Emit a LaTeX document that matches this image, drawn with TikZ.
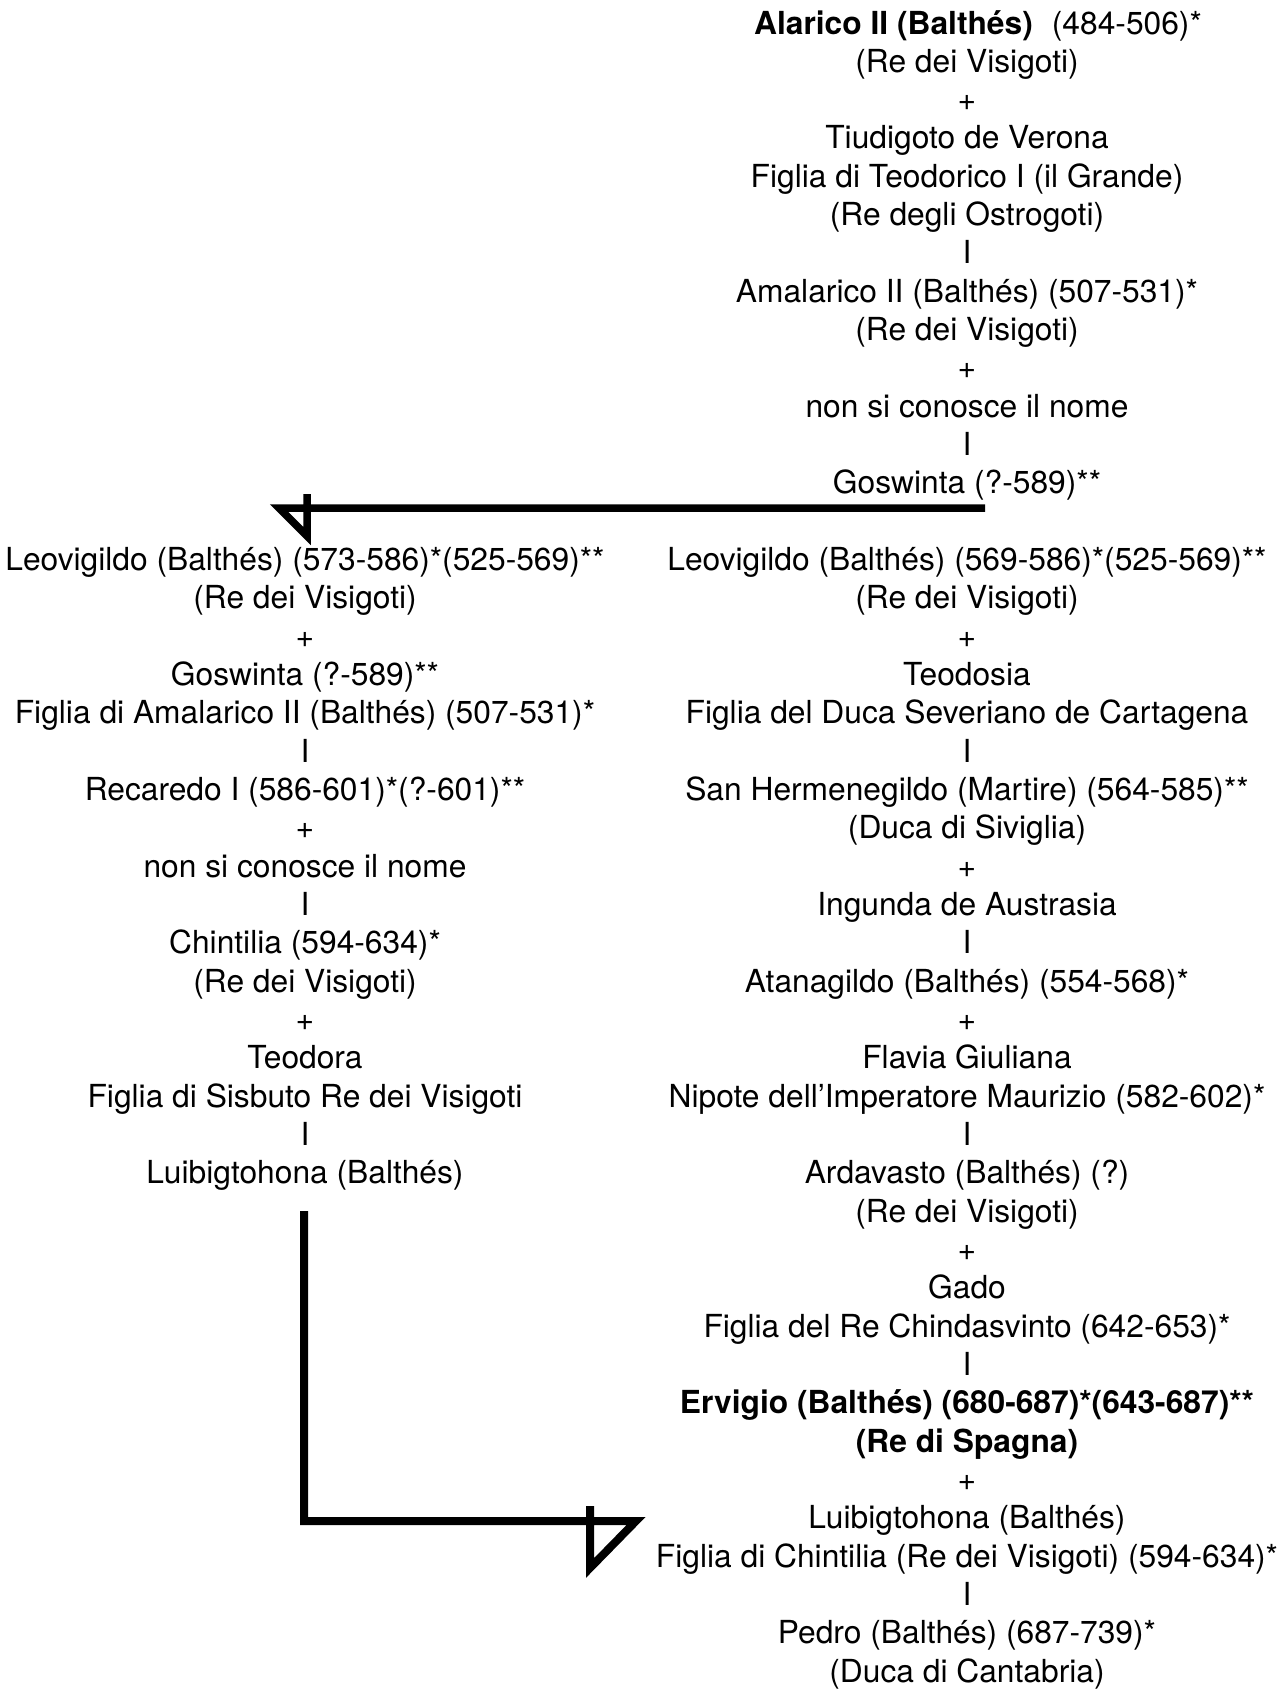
\documentclass[tikz,border=0pt]{standalone}
\usepackage{fontspec}
\setmainfont{TeX Gyre Heros}
\begin{document}
\begin{tikzpicture}[x=1pt,y=-1pt,
  txt/.style={anchor=base, inner sep=0pt, font=\fontsize{31.75}{38}\selectfont},
  link/.style={line width=7.5pt, line join=miter, line cap=butt}]
\useasboundingbox (0,0) rectangle (1284,1689);
\def\bz{34}\def\dy{38.33}\def\xr{967}\def\xl{305}
% right column
\node[txt] (r0)  at (978,{\bz+\dy*0})  {\textbf{Alarico II (Balthés)}\hspace{0.6em}(484-506)*};
\node[txt] (r1)  at (\xr,{\bz+\dy*1})  {(Re dei Visigoti)};
\node[txt] (r2)  at (\xr,{\bz+\dy*2})  {+};
\node[txt] (r3)  at (\xr,{\bz+\dy*3})  {Tiudigoto de Verona};
\node[txt] (r4)  at (\xr,{\bz+\dy*4})  {Figlia di Teodorico I (il Grande)};
\node[txt] (r5)  at (\xr,{\bz+\dy*5})  {(Re degli Ostrogoti)};
\node[txt] (r6)  at (\xr,{\bz+\dy*6})  {I};
\node[txt] (r7)  at (\xr,{\bz+\dy*7})  {Amalarico II (Balthés) (507-531)*};
\node[txt] (r8)  at (\xr,{\bz+\dy*8})  {(Re dei Visigoti)};
\node[txt] (r9)  at (\xr,{\bz+\dy*9})  {+};
\node[txt] (r10) at (\xr,{\bz+\dy*10}) {non si conosce il nome};
\node[txt] (r11) at (\xr,{\bz+\dy*11}) {I};
\node[txt] (r12) at (\xr,{\bz+\dy*12}) {Goswinta (?-589)**};
\node[txt] (r14) at (\xr,{\bz+\dy*14}) {Leovigildo (Balthés) (569-586)*(525-569)**};
\node[txt] (r15) at (\xr,{\bz+\dy*15}) {(Re dei Visigoti)};
\node[txt] (r16) at (\xr,{\bz+\dy*16}) {+};
\node[txt] (r17) at (\xr,{\bz+\dy*17}) {Teodosia};
\node[txt] (r18) at (\xr,{\bz+\dy*18}) {Figlia del Duca Severiano de Cartagena};
\node[txt] (r19) at (\xr,{\bz+\dy*19}) {I};
\node[txt] (r20) at (\xr,{\bz+\dy*20}) {San Hermenegildo (Martire) (564-585)**};
\node[txt] (r21) at (\xr,{\bz+\dy*21}) {(Duca di Siviglia)};
\node[txt] (r22) at (\xr,{\bz+\dy*22}) {+};
\node[txt] (r23) at (\xr,{\bz+\dy*23}) {Ingunda de Austrasia};
\node[txt] (r24) at (\xr,{\bz+\dy*24}) {I};
\node[txt] (r25) at (\xr,{\bz+\dy*25}) {Atanagildo (Balthés) (554-568)*};
\node[txt] (r26) at (\xr,{\bz+\dy*26}) {+};
\node[txt] (r27) at (\xr,{\bz+\dy*27}) {Flavia Giuliana};
\node[txt] (r28) at (\xr,{\bz+\dy*28}) {Nipote dell’Imperatore Maurizio (582-602)*};
\node[txt] (r29) at (\xr,{\bz+\dy*29}) {I};
\node[txt] (r30) at (\xr,{\bz+\dy*30}) {Ardavasto (Balthés) (?)};
\node[txt] (r31) at (\xr,{\bz+\dy*31}) {(Re dei Visigoti)};
\node[txt] (r32) at (\xr,{\bz+\dy*32}) {+};
\node[txt] (r33) at (\xr,{\bz+\dy*33}) {Gado};
\node[txt] (r34) at (\xr,{\bz+\dy*34}) {Figlia del Re Chindasvinto (642-653)*};
\node[txt] (r35) at (\xr,{\bz+\dy*35}) {I};
\node[txt] (r36) at (\xr,{\bz+\dy*36}) {\textbf{Ervigio (Balthés) (680-687)*(643-687)**}};
\node[txt] (r37) at (\xr,{\bz+\dy*37}) {\textbf{(Re di Spagna)}};
\node[txt] (r38) at (\xr,{\bz+\dy*38}) {+};
\node[txt] (r39) at (\xr,{\bz+\dy*39}) {Luibigtohona (Balthés)};
\node[txt] (r40) at (\xr,{\bz+\dy*40}) {Figlia di Chintilia (Re dei Visigoti) (594-634)*};
\node[txt] (r41) at (\xr,{\bz+\dy*41}) {I};
\node[txt] (r42) at (\xr,{\bz+\dy*42}) {Pedro (Balthés) (687-739)*};
\node[txt] (r43) at (\xr,{\bz+\dy*43}) {(Duca di Cantabria)};
% left column
\node[txt] (l14) at (\xl,{\bz+\dy*14}) {Leovigildo (Balthés) (573-586)*(525-569)**};
\node[txt] (l15) at (\xl,{\bz+\dy*15}) {(Re dei Visigoti)};
\node[txt] (l16) at (\xl,{\bz+\dy*16}) {+};
\node[txt] (l17) at (\xl,{\bz+\dy*17}) {Goswinta (?-589)**};
\node[txt] (l18) at (\xl,{\bz+\dy*18}) {Figlia di Amalarico II (Balthés) (507-531)*};
\node[txt] (l19) at (\xl,{\bz+\dy*19}) {I};
\node[txt] (l20) at (\xl,{\bz+\dy*20}) {Recaredo I (586-601)*(?-601)**};
\node[txt] (l21) at (\xl,{\bz+\dy*21}) {+};
\node[txt] (l22) at (\xl,{\bz+\dy*22}) {non si conosce il nome};
\node[txt] (l23) at (\xl,{\bz+\dy*23}) {I};
\node[txt] (l24) at (\xl,{\bz+\dy*24}) {Chintilia (594-634)*};
\node[txt] (l25) at (\xl,{\bz+\dy*25}) {(Re dei Visigoti)};
\node[txt] (l26) at (\xl,{\bz+\dy*26}) {+};
\node[txt] (l27) at (\xl,{\bz+\dy*27}) {Teodora};
\node[txt] (l28) at (\xl,{\bz+\dy*28}) {Figlia di Sisbuto Re dei Visigoti};
\node[txt] (l29) at (\xl,{\bz+\dy*29}) {I};
\node[txt] (l30) at (\xl,{\bz+\dy*30}) {Luibigtohona (Balthés)};
% connectors
\coordinate (a0) at (985,508);
\coordinate (a1) at (279,508);
\coordinate (a2) at (307,536);
\coordinate (a3) at (307,494);
\draw[link] (a0) -- (a1) -- (a2) -- (a3);
\coordinate (b0) at (304,1211);
\coordinate (b1) at (304,1521);
\coordinate (b2) at (636,1521);
\coordinate (b3) at (590,1568);
\coordinate (b4) at (590,1506);
\draw[link, line width=8pt] (b0) -- (b1) -- (b2) -- (b3) -- (b4);
\end{tikzpicture}
\end{document}
